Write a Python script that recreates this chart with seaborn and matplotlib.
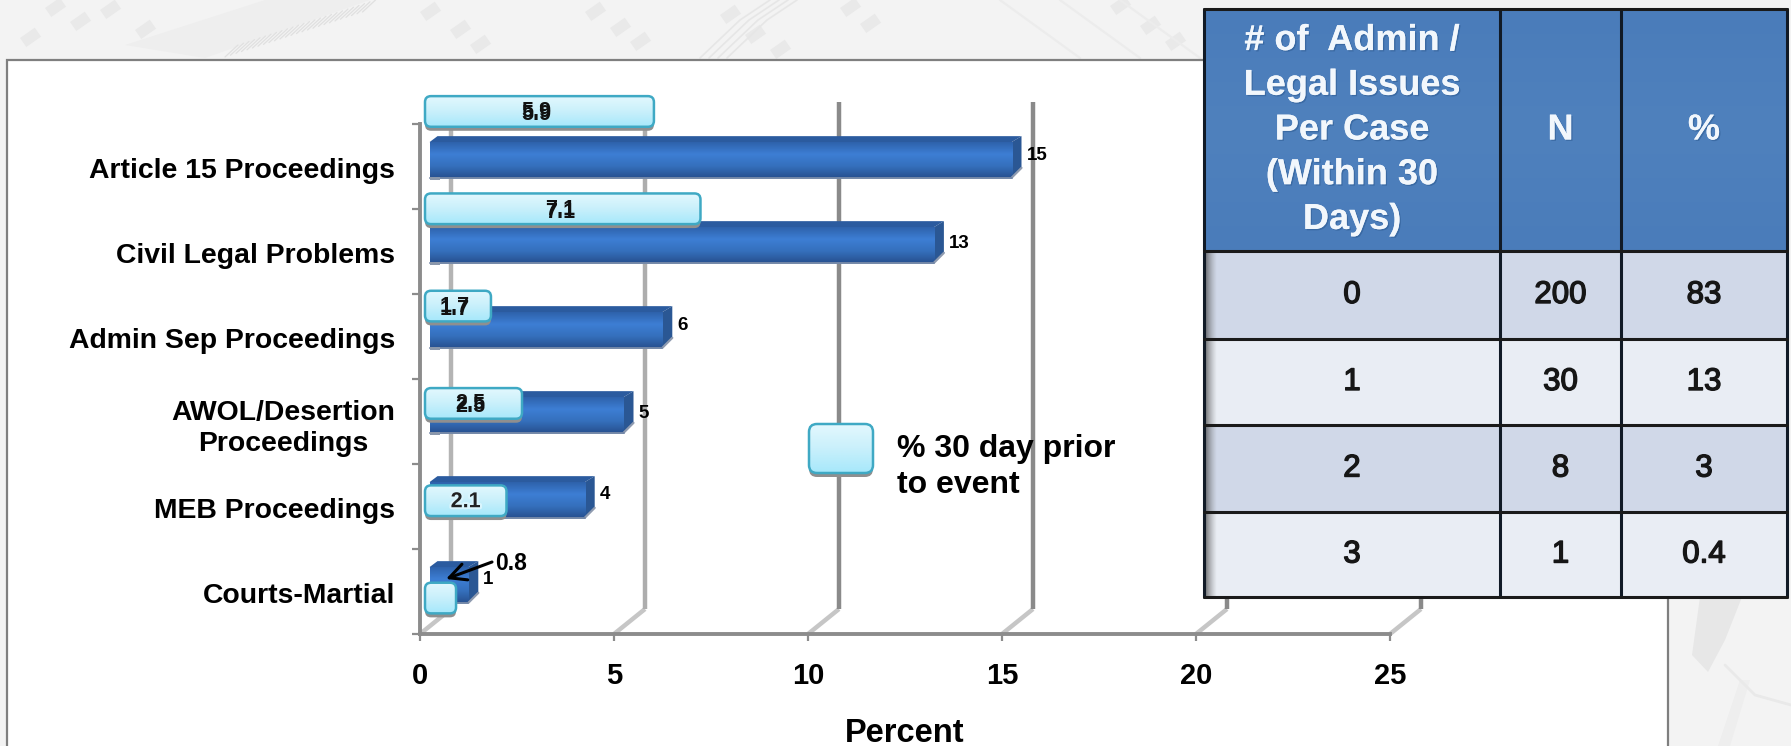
import numpy as np
import pandas as pd
import matplotlib
matplotlib.use("Agg")
import matplotlib.pyplot as plt
import matplotlib.patheffects as pe
from matplotlib.colors import LinearSegmentedColormap
from matplotlib.patches import FancyBboxPatch, Polygon, Rectangle
import seaborn as sns

# ---- chart data ----
categories = ["Article 15 Proceedings", "Civil Legal Problems", "Admin Sep Proceedings",
              "AWOL/Desertion\nProceedings", "MEB Proceedings", "Courts-Martial"]
percent_total = [15, 13, 6, 5, 4, 1]
percent_30day = [5.9, 7.1, 1.7, 2.5, 2.1, 0.8]
x_ticks = [0, 5, 10, 15, 20, 25]
legend_label = "% 30 day prior\nto event"
x_title = "Percent"

table_header = ["# of  Admin /\nLegal Issues\nPer Case\n(Within 30\nDays)", "N", "%"]
table_issues = ["0", "1", "2", "3"]
table_n = ["200", "30", "8", "1"]
table_pct = ["83", "13", "3", "0.4"]

# ---- page geometry, in pixels from the top-left corner ----
W, H = 1791, 746
DPI = 100
PLOT_X0, PLOT_X1 = 420, 1390
PLOT_Y0, PLOT_Y1 = 124, 634
WALL_DX, WALL_DY = 31, -25
WALL_TOP = 102
DEPTH_X, DEPTH_Y = 10, -6
VALUE_LABEL_LIFT = [5, 1, 5, 1, 5, 5]

sns.set_style("white")
plt.rcParams["font.family"] = ["Liberation Sans", "DejaVu Sans"]
plt.rcParams["font.weight"] = "bold"

fig = plt.figure(figsize=(W / DPI, H / DPI), dpi=DPI)


def rect_axes(x0, y0, x1, y1, z):
    ax = fig.add_axes([x0 / W, 1 - y1 / H, (x1 - x0) / W, (y1 - y0) / H], zorder=z)
    ax.patch.set_alpha(0)
    return ax


def canvas(z):
    ax = rect_axes(0, 0, W, H, z)
    ax.set_xlim(0, W)
    ax.set_ylim(H, 0)
    ax.axis("off")
    return ax


def gradient(ax, box, colors, clip=None, z=3, horizontal=False):
    cmap = LinearSegmentedColormap.from_list("g", colors)
    ramp = np.linspace(0, 1, 128)
    ramp = ramp[None, :] if horizontal else ramp[:, None]
    x0, y0, x1, y1 = box
    im = ax.imshow(ramp, cmap=cmap, extent=(x0, x1, y1, y0), aspect="auto",
                   interpolation="bilinear", zorder=z)
    if clip is not None:
        im.set_clip_path(clip)
    ax.set_xlim(0, W)
    ax.set_ylim(H, 0)
    return im


def to_page(ax, x, y):
    px, py = ax.transData.transform((x, y))
    return px, H - py


# ---- page background with faint circuit-board artwork ----
bg = canvas(0)
bg.add_patch(Rectangle((0, 0), W, H, fc="#f3f3f3", ec="none", zorder=0))
pad = "#e9e9e9"
for px, py in [(45, 8), (70, 22), (100, 10), (135, 30), (20, 38), (420, 12), (450, 30), (470, 45),
               (585, 12), (610, 28), (630, 42), (720, 15), (745, 35), (770, 50), (840, 8),
               (860, 24), (1110, 6), (1140, 26), (1165, 42)]:
    bg.add_patch(Rectangle((px, py), 18, 11, angle=-35, fc=pad, ec="none", zorder=1))
bg.add_patch(Polygon([(125, 45), (265, 0), (370, 0), (205, 58)], fc="#eeeeee", ec="none", zorder=1))
for k in range(26):
    bg.plot([225 + 5.5 * k, 238 + 5.5 * k], [57 - 1.8 * k, 45 - 1.8 * k], color="#e0e0e0", lw=0.9, zorder=2)
for k in range(4):
    bg.plot([700 + 9 * k, 740 + 9 * k, 770 + 9 * k], [58, 20, 0], color="#e6e6e6", lw=1.2, zorder=2)
for k in range(3):
    bg.plot([1000 + 60 * k, 1080 + 60 * k], [0, 58], color="#ececec", lw=1.6, zorder=2)
bg.add_patch(Polygon([(1700, 597), (1742, 597), (1725, 640), (1708, 672), (1692, 655)],
                     fc="#e7e7e7", ec="none", zorder=1))
bg.add_patch(Polygon([(1740, 680), (1750, 680), (1730, 746), (1718, 746)], fc="#eeeeee", ec="none", zorder=1))
bg.plot([1725, 1755, 1791], [665, 695, 705], color="#e9e9e9", lw=2, zorder=2)
bg.add_patch(Rectangle((6.5, 59.5), 1661, 700, fc="white", ec="#7f7f7f", lw=1.6, zorder=3))

# ---- axes frame ----
ax_main = rect_axes(PLOT_X0, PLOT_Y0, PLOT_X1, PLOT_Y1, 1)
ax_main.set_xlim(0, x_ticks[-1])
ax_main.set_ylim(len(categories) - 0.5, -0.5)
for side in ["top", "right"]:
    ax_main.spines[side].set_visible(False)
for side in ["left", "bottom"]:
    ax_main.spines[side].set_color("#8c8c8c")
    ax_main.spines[side].set_linewidth(2.8)
ax_main.set_xticks(x_ticks)
ax_main.set_xticklabels([str(t) for t in x_ticks], color="black")
ax_main.set_yticks(np.arange(-0.5, len(categories)))
ax_main.set_yticklabels([])
ax_main.set_yticks(np.arange(len(categories)) + 0.015, minor=True)
ax_main.set_yticklabels(categories, minor=True, multialignment="center", color="black", linespacing=1.28)
ax_main.tick_params(axis="y", which="major", length=6, width=1.6, color="#8c8c8c", left=True)
ax_main.tick_params(axis="y", which="minor", length=0, pad=18, labelsize=20.4, labelcolor="black")
ax_main.tick_params(axis="x", length=5, width=1.6, color="#8c8c8c", bottom=True, pad=15, labelsize=21,
                    labelcolor="black")
ax_main.set_xlabel(x_title, fontsize=23.5, fontweight="bold", labelpad=20, color="black")

# Receding floor strips and back-wall gridlines
wall_colors = {0: "#b4b4b4", 5: "#adadad", 10: "#8a8a8a", 15: "#8a8a8a", 20: "#8a8a8a", 25: "#8a8a8a"}
for t in x_ticks:
    px, py = to_page(ax_main, t, len(categories) - 0.5)
    bg.plot([px, px + WALL_DX], [py, py + WALL_DY], color="#c6c6c6", lw=3.2, zorder=4, solid_capstyle="butt")
    bg.plot([px + WALL_DX, px + WALL_DX], [py + WALL_DY, WALL_TOP], color=wall_colors[t], lw=3.2,
            zorder=4, solid_capstyle="butt")

# ---- main bars: total percent ----
df_total = pd.DataFrame({"category": categories, "value": percent_total})
ax_bars = rect_axes(PLOT_X0 + 9.5, PLOT_Y0 - 6.5, PLOT_X1 + 9.5, PLOT_Y1 - 6.5, 2)
sns.barplot(data=df_total, x="value", y="category", ax=ax_bars, width=0.42, color="#2f66b0",
            saturation=1, linewidth=0)
ax_bars.set_xlim(0, x_ticks[-1])
ax_bars.set_ylim(len(categories) - 0.5, -0.5)
ax_bars.axis("off")

depth = canvas(2.5)
for rect, value, lift in zip(ax_bars.patches, percent_total, VALUE_LABEL_LIFT):
    x0, y0 = to_page(ax_bars, rect.get_x(), rect.get_y())
    x1, y1 = to_page(ax_bars, rect.get_x() + rect.get_width(), rect.get_y() + rect.get_height())
    depth.add_patch(Polygon([(x0, y0), (x0 + 8, y0 + DEPTH_Y), (x1 + DEPTH_X, y0 + DEPTH_Y), (x1, y0)],
                            fc="#2b5b9f", ec="none", zorder=2))
    depth.add_patch(Polygon([(x1, y0), (x1 + DEPTH_X, y0 + DEPTH_Y), (x1 + DEPTH_X, y1 - 10), (x1, y1)],
                            fc="#2a5794", ec="none", zorder=2))
    depth.plot([x1, x1 + DEPTH_X], [y1, y1 - 10], color="#8f9bb0", lw=1.6, zorder=4)
    depth.plot([x0, x1], [y1, y1], color="#7488a8", lw=1.4, zorder=4)
    depth.add_patch(Rectangle((x0, y1 - 1), 10, 3, fc="#8a97ab", ec="none", zorder=4))
    gradient(depth, (x0, y0, x1, y1), ["#2e62ab", "#3d7ed4", "#3570bd", "#27508f"], z=3)
    depth.text(x1 + DEPTH_X + 5, (y0 + y1) / 2 - lift, f"{value:g}", fontsize=13.5, ha="left", va="center",
               color="black", zorder=6)

# ---- overlaid bars: percent in the 30 days before the event ----
df_recent = pd.DataFrame({"category": categories, "value": percent_30day})
ax_recent = rect_axes(PLOT_X0 + 5, 62.8, PLOT_X1 + 5, 646.7, 3)
sns.barplot(data=df_recent, x="value", y="category", ax=ax_recent, width=0.315, color="#c4eefb",
            saturation=1, linewidth=0, alpha=0)
ax_recent.set_xlim(0, x_ticks[-1])
ax_recent.set_ylim(len(categories) - 0.5, -0.5)
ax_recent.axis("off")

over = canvas(3.5)
BOX_COLORS = ["#e3f8fe", "#c9f0fb", "#a6e8fb"]


def soft_box(x0, y0, x1, y1, radius=6, shadow="#8f8f8f"):
    over.add_patch(FancyBboxPatch((x0, y0 + 4), x1 - x0, y1 - y0,
                                  boxstyle=f"round,pad=0,rounding_size={radius}",
                                  fc=shadow, ec="none", zorder=2))
    face = FancyBboxPatch((x0, y0), x1 - x0, y1 - y0, boxstyle=f"round,pad=0,rounding_size={radius}",
                          fc=BOX_COLORS[1], ec="none", zorder=3)
    over.add_patch(face)
    gradient(over, (x0, y0, x1, y1), BOX_COLORS, clip=face, z=4)
    over.add_patch(FancyBboxPatch((x0, y0), x1 - x0, y1 - y0, boxstyle=f"round,pad=0,rounding_size={radius}",
                                  fc="none", ec="#3fa9c4", lw=1.8, zorder=5))


# Bars that carry two stacked copies of their label, slightly out of register
doubled_label = [True, True, True, True, False, False]
for i, (rect, value) in enumerate(zip(ax_recent.patches, percent_30day)):
    x0, y0 = to_page(ax_recent, rect.get_x(), rect.get_y())
    x1, y1 = to_page(ax_recent, rect.get_x() + rect.get_width(), rect.get_y() + rect.get_height())
    soft_box(x0, y0, x1, y1, radius=6 if x1 - x0 > 30 else 3)
    cx, cy = (x0 + x1) / 2, (y0 + y1) / 2
    if doubled_label[i]:
        for shift in (0.5, 3.5):
            over.text(cx - 3, cy + shift, f"{value:g}", fontsize=15.5, ha="center", va="center",
                      color="#111111", zorder=7)
    elif i == len(percent_30day) - 1:
        over.text(511, 563, f"{value:g}", fontsize=16.5, ha="center", va="center", color="black", zorder=7)
        over.annotate("", xy=(446, 579), xytext=(492, 562), zorder=8,
                      arrowprops=dict(arrowstyle="->", color="black", lw=2.2, mutation_scale=30,
                                      shrinkA=0, shrinkB=0))
    else:
        over.text(cx, cy + 1, f"{value:g}", fontsize=15.5, ha="center", va="center", color="#222222", zorder=7,
                  path_effects=[pe.withStroke(linewidth=3, foreground="#d9f5fd")])

# Legend swatch and caption
soft_box(809, 424, 873, 473, radius=8)
over.text(897, 467, legend_label, fontsize=23, ha="left", va="center", color="black", linespacing=1.22, zorder=7)

# ---- summary table ----
tab = canvas(5)
col_edges = [1204, 1500, 1621, 1787]
row_edges = [9, 251, 339, 425, 512, 597]
row_fills = ["#d0d8e8", "#e9edf4", "#d0d8e8", "#e9edf4"]

gradient(tab, (col_edges[0], row_edges[0], col_edges[-1], row_edges[1]),
         ["#4a7cba", "#4f81bd", "#4a7cba"], z=1)
for r, fill in enumerate(row_fills):
    tab.add_patch(Rectangle((col_edges[0], row_edges[r + 1]), col_edges[-1] - col_edges[0],
                            row_edges[r + 2] - row_edges[r + 1], fc=fill, ec="none", zorder=1))
cmap_edge = LinearSegmentedColormap.from_list("edge", [(0.2, 0.2, 0.2, 0.75), (0.5, 0.5, 0.5, 0)])
edge = tab.imshow(np.linspace(0, 1, 32)[None, :], cmap=cmap_edge, aspect="auto", zorder=2,
                  extent=(col_edges[0], col_edges[0] + 13, row_edges[-1], row_edges[1]))
tab.set_xlim(0, W)
tab.set_ylim(H, 0)

for x in col_edges:
    tab.plot([x, x], [row_edges[0], row_edges[-1]], color="#111a26", lw=2.2, zorder=3)
for y in row_edges:
    tab.plot([col_edges[0], col_edges[-1]], [y, y], color="#1a1a1a", lw=2.2, zorder=3)

for c, label in enumerate(table_header):
    tab.text((col_edges[c] + col_edges[c + 1]) / 2, (row_edges[0] + row_edges[1]) / 2, label,
             fontsize=26, fontweight="bold", color="#f2f7fc", ha="center", va="center",
             linespacing=1.36, zorder=4,
             path_effects=[pe.withSimplePatchShadow(offset=(1, -1), shadow_rgbFace="#2f5d94", alpha=0.6),
                           pe.Normal()])
for r, row in enumerate(zip(table_issues, table_n, table_pct)):
    for c, value in enumerate(row):
        tab.text((col_edges[c] + col_edges[c + 1]) / 2, (row_edges[r + 1] + row_edges[r + 2]) / 2, value,
                 fontsize=22.5, fontweight="normal", color="#161616", ha="center", va="center", zorder=4,
                 path_effects=[pe.withStroke(linewidth=1.0, foreground="#161616")])

fig.savefig("out.png", dpi=DPI)
